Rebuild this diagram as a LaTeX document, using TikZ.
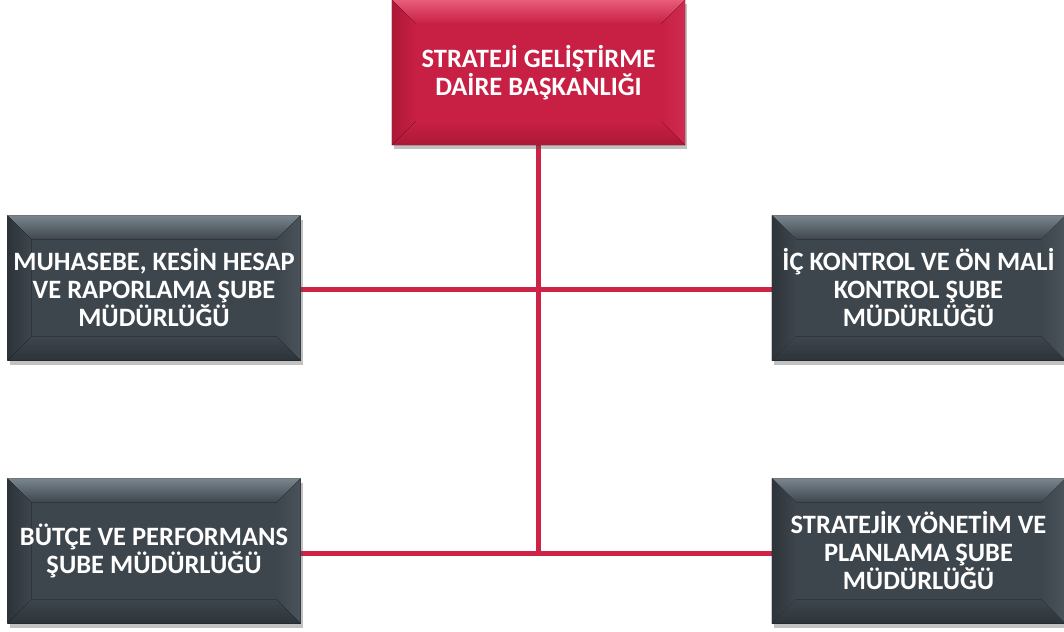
\documentclass[tikz,border=0pt]{standalone}
\usepackage{fontspec}
\setmainfont{Carlito}
\usetikzlibrary{calc,shadows}
\definecolor{redmain}{RGB}{200,32,68}
\definecolor{redlight}{RGB}{232,92,122}
\definecolor{reddark}{RGB}{172,24,54}
\definecolor{slatemain}{RGB}{62,70,77}
\definecolor{slatelight}{RGB}{122,134,142}
\definecolor{slatedark}{RGB}{44,51,57}
\definecolor{linered}{RGB}{205,35,70}
\newcommand{\bevelbox}[4]{%
  % #1 name, #2 light, #3 main, #4 dark
  \fill[top color=#2,bottom color=#3] (#1.north west) -- (#1.north east) -- ($(#1.north east)+(-24,24)$) -- ($(#1.north west)+(24,24)$) -- cycle;
  \fill[left color=#4,right color=#3] (#1.north west) -- ($(#1.north west)+(24,24)$) -- ($(#1.south west)+(24,-24)$) -- (#1.south west) -- cycle;
  \fill[right color=#3!80!#2,left color=#3] (#1.north east) -- ($(#1.north east)+(-24,24)$) -- ($(#1.south east)+(-24,-24)$) -- (#1.south east) -- cycle;
  \fill[bottom color=#4,top color=#3] (#1.south west) -- ($(#1.south west)+(24,-24)$) -- ($(#1.south east)+(-24,-24)$) -- (#1.south east) -- cycle;
}
\tikzset{
  boxbase/.style={minimum height=145pt, inner sep=0pt, align=center, text=white,
    drop shadow={shadow xshift=2pt, shadow yshift=-4pt, opacity=0.35, fill=black!70}},
  headbox/.style={boxbase, fill=redmain, minimum width=293pt},
  unitbox/.style={boxbase, fill=slatemain, minimum width=293pt},
  boxtext/.style={align=center, text=white, font=\bfseries\fontsize{26.5}{28}\selectfont},
  link/.style={draw=linered, line width=5pt}
}
\begin{document}
\begin{tikzpicture}[x=1pt,y=-1pt]
\useasboundingbox (0,0) rectangle (1064,631);
% connectors first (behind boxes)
\coordinate (topc) at (538.5,72.5);
\coordinate (ltc) at (154,289);
\coordinate (rtc) at (918,289);
\coordinate (lbc) at (154,553);
\coordinate (rbc) at (918,553);
\coordinate (j) at (topc |- lbc);
\draw[link] (ltc) -- (rtc);
\draw[link] (lbc) -- (rbc);
\draw[link] (topc) -- (j);
% boxes
\node[headbox] (top) at (538.5,72.5) {};
\node[unitbox] (lt) at (154,288) {};
\node[unitbox] (rt) at (918.5,288) {};
\node[unitbox] (lb) at (154,551) {};
\node[unitbox] (rb) at (918.5,551) {};
\bevelbox{top}{redlight}{redmain}{reddark}
\bevelbox{lt}{slatelight}{slatemain}{slatedark}
\bevelbox{rt}{slatelight}{slatemain}{slatedark}
\bevelbox{lb}{slatelight}{slatemain}{slatedark}
\bevelbox{rb}{slatelight}{slatemain}{slatedark}
% texts
\node[boxtext] (toptext) at (top) {STRATEJİ GELİŞTİRME\\DAİRE BAŞKANLIĞI};
\node[boxtext] (lttext) at (lt) {MUHASEBE, KESİN HESAP\\VE RAPORLAMA ŞUBE\\MÜDÜRLÜĞÜ};
\node[boxtext] (rttext) at (rt) {İÇ KONTROL VE ÖN MALİ\\KONTROL ŞUBE\\MÜDÜRLÜĞÜ};
\node[boxtext] (lbtext) at (lb) {BÜTÇE VE PERFORMANS\\ŞUBE MÜDÜRLÜĞÜ};
\node[boxtext] (rbtext) at (rb) {STRATEJİK YÖNETİM VE\\PLANLAMA ŞUBE\\MÜDÜRLÜĞÜ};
\end{tikzpicture}
\end{document}
